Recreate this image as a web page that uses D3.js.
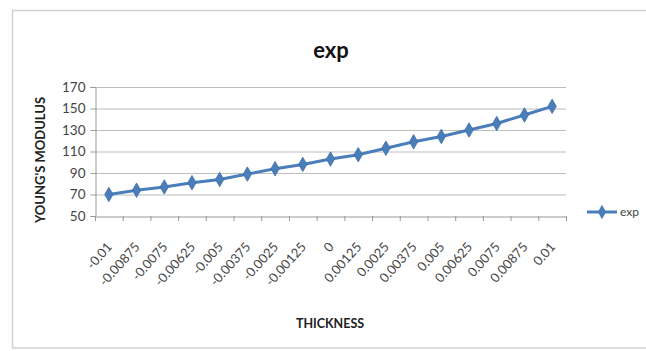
<!DOCTYPE html>
<html><head><meta charset="utf-8">
<script src="https://cdn.jsdelivr.net/npm/d3@7"></script>
<style>body{margin:0;background:#fff}svg{display:block}</style>
</head><body>
<svg id="c" width="646" height="351"></svg>
<script>
const categories = ["-0.01","-0.00875","-0.0075","-0.00625","-0.005","-0.00375","-0.0025","-0.00125","0","0.00125","0.0025","0.00375","0.005","0.00625","0.0075","0.00875","0.01"];
const expValues = [70,74,77,81,84,89,94,98,103,107,113,119,124,130,136,144,152];
const yTicks = [50,70,90,110,130,150,170];
const seriesName = "exp";
const titleText = "exp";
const xTitle = "THICKNESS";
const yTitle = "YOUNG'S MODULUS";

const svg = d3.select("#c");
const font = "Lato, 'Open Sans', sans-serif";
const col = "#4A7EBB";

svg.append("rect").attr("x",12.5).attr("y",10.5).attr("width",650).attr("height",337.5)
  .attr("fill","#fff").attr("stroke","#d0d0d0").attr("stroke-width",1.5);

const L=95, R=566, T=87, B=216;
const x = d3.scaleBand().domain(categories).range([L,R]).padding(0);
const y = d3.scaleLinear().domain([50,170]).range([B,T]);

// gridlines
svg.append("g").selectAll("line").data(yTicks.filter(d=>d>50)).join("line")
  .attr("x1",L).attr("x2",R).attr("y1",d=>y(d)+0.5).attr("y2",d=>y(d)+0.5)
  .attr("stroke","#bdbdbd").attr("stroke-width",1);

// y axis
const ya = svg.append("g").attr("transform",`translate(${L+0.5},0)`)
  .call(d3.axisLeft(y).tickValues(yTicks).tickSize(5).tickPadding(5));
ya.select(".domain").attr("stroke","#999");
ya.selectAll(".tick line").attr("stroke","#999");
ya.selectAll("text").attr("font-family",font).attr("font-size",13.5).attr("fill","#444");

// x axis
const xa = svg.append("g").attr("transform",`translate(0,${B+0.5})`)
  .call(d3.axisBottom(x).tickSize(0));
xa.select(".domain").attr("stroke","#999");
xa.selectAll("text").attr("font-family",font).attr("font-size",13).attr("fill","#444")
  .attr("text-anchor","end").attr("y",0).attr("dy",0)
  .attr("transform","translate(4,31) rotate(-48)");
// ticks between categories
svg.append("g").selectAll("line").data(d3.range(categories.length+1)).join("line")
  .attr("x1",i=>L+i*x.bandwidth()+0.5).attr("x2",i=>L+i*x.bandwidth()+0.5)
  .attr("y1",B).attr("y2",B+5).attr("stroke","#999");

// line
const cx = d=>x(d)+x.bandwidth()/2;
svg.append("path").datum(expValues.map((v,i)=>[cx(categories[i]),y(v)]))
  .attr("d",d3.line()).attr("fill","none").attr("stroke",col).attr("stroke-width",3);
const diamond = d3.symbol().type(d3.symbolDiamond).size(60);
svg.append("g").selectAll("path").data(expValues).join("path")
  .attr("d",diamond).attr("transform",(v,i)=>`translate(${cx(categories[i])},${y(v)})`)
  .attr("fill",col).attr("stroke","#3f6fa8").attr("stroke-width",0.8);

// titles
svg.append("text").attr("x",331).attr("y",58).attr("text-anchor","middle")
  .attr("font-family",font).attr("font-size",22).attr("font-weight","bold").attr("fill","#111").text(titleText);
svg.append("text").attr("x",330).attr("y",328).attr("text-anchor","middle")
  .attr("font-family",font).attr("font-size",12.5).attr("font-weight","bold").attr("fill","#222").text(xTitle);
svg.append("text").attr("transform","translate(45,160) rotate(-90)").attr("text-anchor","middle")
  .attr("font-family",font).attr("font-size",13).attr("font-weight","bold").attr("fill","#222").text(yTitle);

// legend
const lg = svg.append("g").attr("transform","translate(587,212)");
lg.append("line").attr("x1",0).attr("x2",30).attr("stroke",col).attr("stroke-width",3);
lg.append("path").attr("d",diamond).attr("transform","translate(15,0)").attr("fill",col);
lg.append("text").attr("x",33).attr("y",4).attr("font-family",font).attr("font-size",12).attr("fill","#444").text(seriesName);
</script>
</body></html>
